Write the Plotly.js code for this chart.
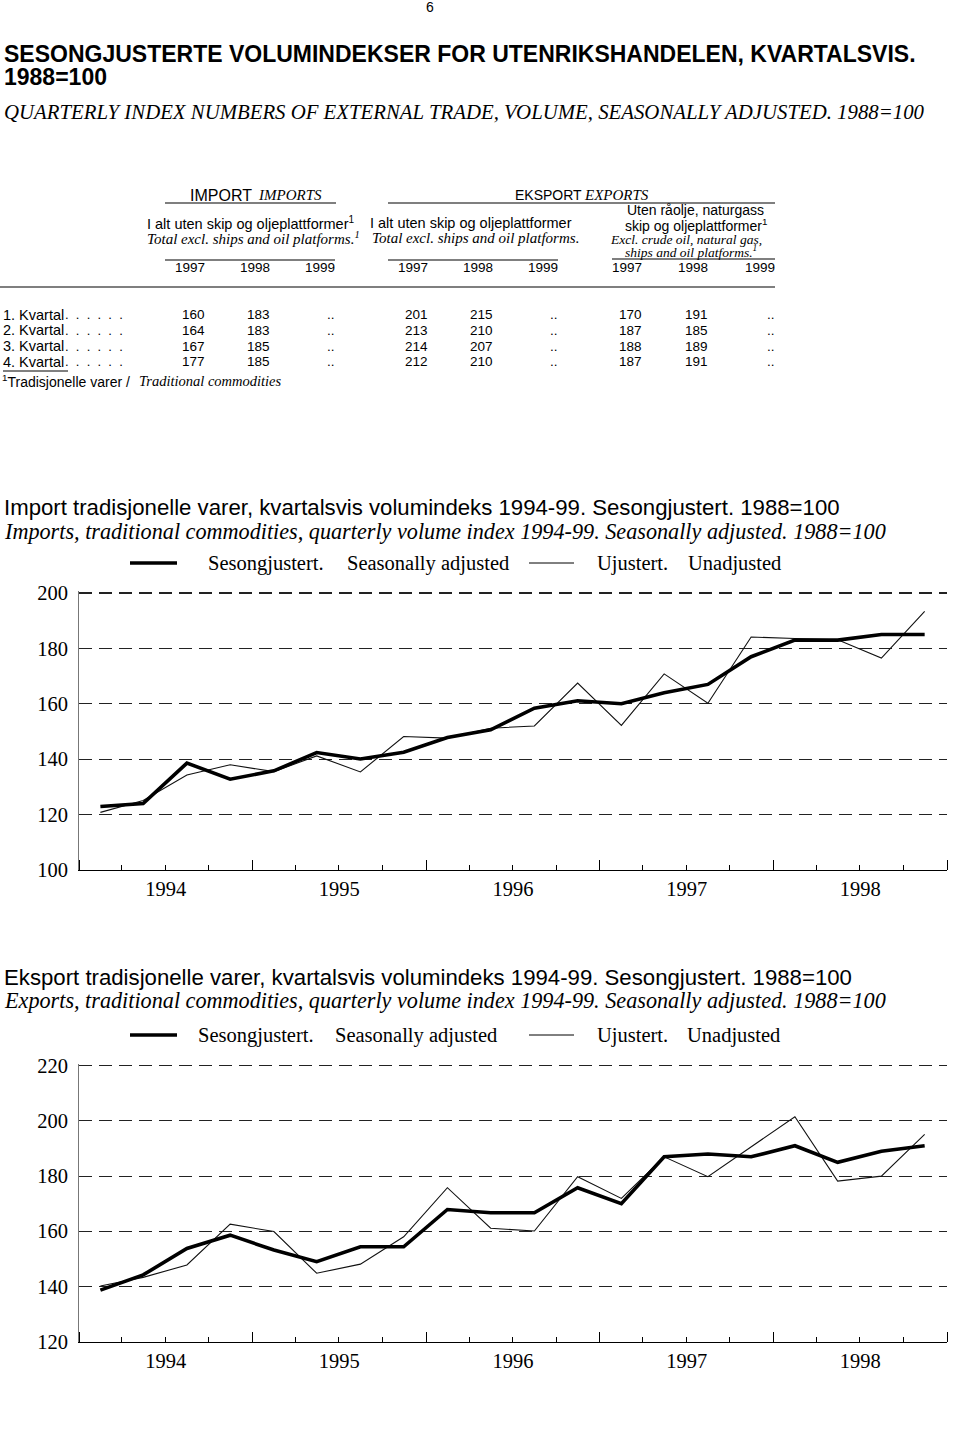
<!DOCTYPE html>
<html>
<head>
<meta charset="utf-8">
<script src="https://cdn.plot.ly/plotly-3.0.1.min.js"></script>
<style>
html,body{margin:0;padding:0;background:#fff;}
#chart{width:960px;height:1435px;}
</style>
</head>
<body>
<div id="chart"></div>
<script>
// ---------- DATA ----------
const quarters = ['1994 K1','1994 K2','1994 K3','1994 K4','1995 K1','1995 K2','1995 K3','1995 K4',
  '1996 K1','1996 K2','1996 K3','1996 K4','1997 K1','1997 K2','1997 K3','1997 K4',
  '1998 K1','1998 K2','1998 K3','1998 K4'];
const importAdjusted   = [122.9,124,138.6,132.8,135.8,142.4,140.1,142.5,147.8,150.6,158.4,161.1,160,164,167,177,183,183,185,185];
const importUnadjusted = [120.8,125.1,134.3,138,135.5,141.2,135.4,148.2,147.6,151.2,152,167.5,152.2,170.8,160.2,184.1,183.6,183.1,176.5,193.4];
const exportAdjusted   = [138.7,144.2,153.8,158.6,153.2,149,154.4,154.4,167.9,166.7,166.7,175.8,170,187,188,187,191,185,189,191];
const exportUnadjusted = [140.2,143.3,147.8,162.6,159.9,144.8,148.1,158,175.8,161.1,160.1,179.8,171.9,187,179.8,190.7,201.5,178.2,180,195.1];
const importTicks = [100,120,140,160,180,200];
const exportTicks = [120,140,160,180,200,220];

// table
const rowLabels = ['1. Kvartal','2. Kvartal','3. Kvartal','4. Kvartal'];
const tableYears = ['1997','1998','1999'];
const imp1997 = [160,164,167,177];
const imp1998 = [183,183,185,185];
const imp1999 = ['..','..','..','..'];
const exp1997 = [201,213,214,212];
const exp1998 = [215,210,207,210];
const exp1999 = ['..','..','..','..'];
const excl1997 = [170,187,188,187];
const excl1998 = [191,185,189,191];
const excl1999 = ['..','..','..','..'];

// ---------- HELPERS ----------
const W = 960, H = 1435;
const SANS = 'Liberation Sans, Arial, sans-serif';
const SERIF = 'Liberation Serif, Times New Roman, serif';
const NB = '\u00A0';
const qMid = {K1:'-02-15',K2:'-05-16',K3:'-08-16',K4:'-11-15'};
const qx = quarters.map(q => { const p = q.split(' '); return p[0] + qMid[p[1]]; });

const ann = [];
function T(text, x, y, o) {
  o = o || {};
  ann.push({text: text, x: x / W, y: 1 - y / H, xref: 'paper', yref: 'paper',
    xanchor: o.anchor || 'left', yanchor: 'middle', showarrow: false, borderpad: 0,
    font: {family: o.family || SANS, size: o.size || 14, color: '#000'}});
}
const shapes = [];
function L(x0, y0, x1, y1, w) {
  shapes.push({type: 'line', xref: 'paper', yref: 'paper', x0: x0 / W, x1: x1 / W,
    y0: 1 - y0 / H, y1: 1 - y1 / H, line: {color: '#000', width: w || 1}});
}

// ---------- PAGE TEXT ----------
T('6', 430, 7, {anchor: 'center', size: 14});
T('<b>SESONGJUSTERTE VOLUMINDEKSER FOR UTENRIKSHANDELEN, KVARTALSVIS.</b>', 3, 54, {size: 23});
T('<b>1988=100</b>', 3, 77, {size: 23});
T('<i>QUARTERLY INDEX NUMBERS OF EXTERNAL TRADE, VOLUME, SEASONALLY ADJUSTED. 1988=100</i>', 3, 112, {family: SERIF, size: 20.8});

// table header
T('IMPORT', 189, 195, {size: 16});
T('<i>IMPORTS</i>', 257, 195, {family: SERIF, size: 15});
T('EKSPORT', 514, 195, {size: 14});
T('<i>EXPORTS</i>', 583, 195, {family: SERIF, size: 15});
L(165, 203, 336, 203, 1.2);
L(388, 203, 775, 203, 1.2);
T('I alt uten skip og oljeplattformer<sup>1</sup>', 146, 223, {size: 14.5});
T('<i>Total excl. ships and oil platforms.<sup>1</sup></i>', 146, 238, {family: SERIF, size: 15});
T('I alt uten skip og oljeplattformer', 369, 223, {size: 14.5});
T('<i>Total excl. ships and oil platforms.</i>', 371, 238, {family: SERIF, size: 15});
T('Uten råolje, naturgass', 765, 210, {anchor: 'right', size: 14});
T('skip og oljeplattformer<sup>1</sup>', 768, 225, {anchor: 'right', size: 14});
T('<i>Excl. crude oil, natural gas,</i>', 763, 239, {anchor: 'right', family: SERIF, size: 13.5});
T('<i>ships and oil platforms.<sup>1</sup></i>', 758, 252, {anchor: 'right', family: SERIF, size: 13.5});
L(165, 260, 335, 260, 1.2);
L(388, 260, 558, 260, 1.2);
L(612, 259, 775, 259, 1.2);
const colRight = [[206, 271, 336], [429, 494, 559], [643, 709, 776]];
colRight.forEach(cols => cols.forEach((cx, i) => T(tableYears[i], cx, 268, {anchor: 'right', size: 13.5})));
L(0, 287, 775, 287, 1.2);

const tableCols = [[imp1997, imp1998, imp1999], [exp1997, exp1998, exp1999], [excl1997, excl1998, excl1999]];
const rowY = [315, 330, 346, 362];
const leaderDots = ['.', '.', '.', '.', '.', '.'].join(' ' + NB);
rowLabels.forEach((lab, r) => {
  T(lab, 2, rowY[r], {size: 14.5});
  T(leaderDots, 64, rowY[r], {size: 13});
  tableCols.forEach((grp, g) => grp.forEach((col, c) => {
    T(String(col[r]), colRight[g][c], rowY[r], {anchor: 'right', size: 13.5});
  }));
});
L(3, 371, 68, 371, 1);
T('<sup>1</sup>Tradisjonelle varer /', 1, 381, {size: 14});
T('<i>Traditional commodities</i>', 138, 381, {family: SERIF, size: 14.5});

// chart titles + legends
function chartHead(yTitle, yItal, yLeg, legX, nor, eng) {
  T(nor, 3, yTitle, {size: 22.2});
  T('<i>' + eng + '</i>', 3, yItal, {family: SERIF, size: 22.2});
  L(130, yLeg, 177, yLeg, 3.5);
  T('Sesongjustert.', legX[0], yLeg, {family: SERIF, size: 20.5});
  T('Seasonally adjusted', legX[1], yLeg, {family: SERIF, size: 20.5});
  L(529, yLeg, 574, yLeg, 1);
  T('Ujustert.', legX[2], yLeg, {family: SERIF, size: 20.5});
  T('Unadjusted', legX[3], yLeg, {family: SERIF, size: 20.5});
}
chartHead(508, 531, 563, [207, 346, 596, 687],
  'Import tradisjonelle varer, kvartalsvis volumindeks 1994-99. Sesongjustert. 1988=100',
  'Imports, traditional commodities, quarterly volume index 1994-99. Seasonally adjusted. 1988=100');
chartHead(977, 1001, 1035, [197, 334, 596, 686],
  'Eksport tradisjonelle varer, kvartalsvis volumindeks 1994-99. Sesongjustert. 1988=100',
  'Exports, traditional commodities, quarterly volume index 1994-99. Seasonally adjusted. 1988=100');

// ---------- AXES ----------
const xdom = [79 / W, 947 / W];
function xAxis(anchor) {
  return {anchor: anchor, domain: xdom, type: 'date', range: ['1994-01-01', '1999-01-01'],
    tick0: '1994-01-01', dtick: 'M12', tickformat: '%Y', ticklabelmode: 'period',
    ticks: 'inside', ticklen: 10, tickwidth: 1, tickcolor: '#000',
    showline: true, linecolor: '#000', linewidth: 1.2, showgrid: false, zeroline: false,
    tickfont: {family: SERIF, size: 20.5, color: '#000'},
    minor: {dtick: 'M3', tick0: '1994-01-01', ticks: 'inside', ticklen: 5, tickwidth: 1, tickcolor: '#000', showgrid: false},
    fixedrange: true};
}
function yAxis(anchor, dom, rng, tv) {
  return {anchor: anchor, domain: dom, range: rng, tickmode: 'array', tickvals: tv,
    ticks: '', showgrid: true, gridcolor: '#222', gridwidth: 1.1, griddash: '13px,7px',
    showline: true, linecolor: '#777', linewidth: 1, zeroline: false,
    tickfont: {family: SERIF, size: 20.5, color: '#000'}, ticklabelstandoff: 6, fixedrange: true};
}
// Plotly drops gridlines within 1px of the range end: leave a little headroom
const pad = 0.6;
const impTop = 593 - pad * 2.77, expTop = 1065.7 - pad * 2.76;

const traces = [
  {x: qx, y: importUnadjusted, xaxis: 'x', yaxis: 'y', mode: 'lines', line: {color: '#111', width: 1.1}, name: 'Ujustert. Unadjusted'},
  {x: qx, y: importAdjusted, xaxis: 'x', yaxis: 'y', mode: 'lines', line: {color: '#000', width: 3.6}, name: 'Sesongjustert. Seasonally adjusted'},
  {x: qx, y: exportUnadjusted, xaxis: 'x2', yaxis: 'y2', mode: 'lines', line: {color: '#111', width: 1.1}, name: 'Ujustert. Unadjusted'},
  {x: qx, y: exportAdjusted, xaxis: 'x2', yaxis: 'y2', mode: 'lines', line: {color: '#000', width: 3.6}, name: 'Sesongjustert. Seasonally adjusted'}
];

const layout = {
  width: W, height: H, margin: {l: 0, r: 0, t: 0, b: 0},
  paper_bgcolor: '#fff', plot_bgcolor: 'rgba(0,0,0,0)', showlegend: false,
  xaxis: xAxis('y'),
  yaxis: yAxis('x', [1 - 870 / H, 1 - impTop / H], [100, 200 + pad], importTicks),
  xaxis2: xAxis('y2'),
  yaxis2: yAxis('x2', [1 - 1341.7 / H, 1 - expTop / H], [120, 220 + pad], exportTicks),
  annotations: ann, shapes: shapes
};

Plotly.newPlot('chart', traces, layout, {staticPlot: true, displayModeBar: false});
</script>
</body>
</html>
